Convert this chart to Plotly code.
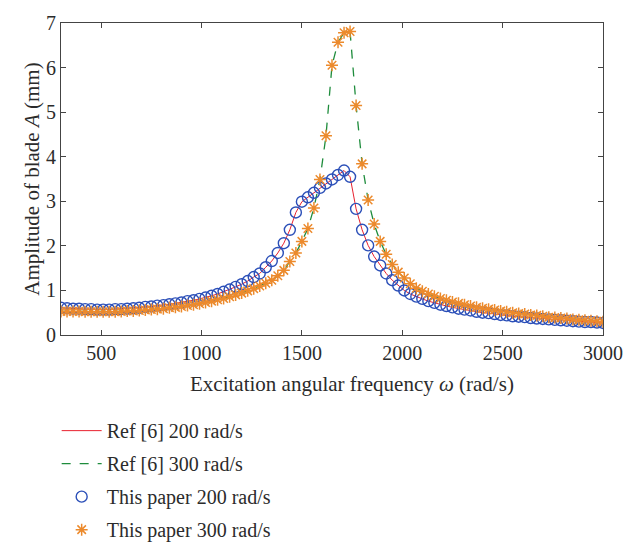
import plotly.graph_objects as go

# Excitation angular frequency (rad/s)
omega = [300 + 30 * k for k in range(91)]

# This paper / Ref [6], 200 rad/s  (amplitude, mm)
amp_200 = [0.61, 0.60, 0.59, 0.59, 0.58, 0.58, 0.57, 0.57, 0.57, 0.58,
           0.58, 0.59, 0.60, 0.61, 0.63, 0.64, 0.66, 0.67, 0.69, 0.71,
           0.73, 0.76, 0.78, 0.81, 0.84, 0.88, 0.92, 0.97, 1.02, 1.08,
           1.14, 1.21, 1.30, 1.38, 1.52, 1.66, 1.84, 2.06, 2.36, 2.75,
           2.99, 3.09, 3.19, 3.30, 3.40, 3.49, 3.59, 3.69, 3.55, 2.83,
           2.36, 2.01, 1.76, 1.56, 1.38, 1.23, 1.11, 1.00, 0.92, 0.86,
           0.81, 0.76, 0.72, 0.68, 0.65, 0.62, 0.59, 0.57, 0.55, 0.52,
           0.50, 0.49, 0.47, 0.45, 0.44, 0.42, 0.41, 0.40, 0.38, 0.37,
           0.36, 0.35, 0.34, 0.33, 0.32, 0.31, 0.30, 0.29, 0.29, 0.28,
           0.27]

# This paper / Ref [6], 300 rad/s  (amplitude, mm)
amp_300 = [0.53, 0.53, 0.53, 0.53, 0.52, 0.52, 0.52, 0.52, 0.52, 0.52,
           0.53, 0.54, 0.54, 0.55, 0.56, 0.57, 0.58, 0.59, 0.61, 0.62,
           0.64, 0.66, 0.68, 0.70, 0.73, 0.76, 0.79, 0.82, 0.86, 0.90,
           0.94, 0.99, 1.04, 1.10, 1.16, 1.23, 1.33, 1.45, 1.65, 1.84,
           2.10, 2.39, 2.85, 3.49, 4.47, 6.05, 6.57, 6.78, 6.81, 5.15,
           3.84, 3.03, 2.49, 2.10, 1.81, 1.58, 1.41, 1.28, 1.15, 1.05,
           0.98, 0.92, 0.87, 0.82, 0.78, 0.74, 0.71, 0.68, 0.65, 0.62,
           0.60, 0.58, 0.56, 0.54, 0.52, 0.50, 0.48, 0.47, 0.45, 0.44,
           0.42, 0.40, 0.39, 0.38, 0.37, 0.35, 0.34, 0.33, 0.32, 0.31,
           0.30]

x_ticks = [500, 1000, 1500, 2000, 2500, 3000]
y_ticks = [0, 1, 2, 3, 4, 5, 6, 7]

FONT = "Liberation Serif"
TXT = "#2b2b2b"
FS = 20

fig = go.Figure()
fig.add_trace(go.Scatter(x=omega, y=amp_200, mode="lines", name="Ref [6] 200 rad/s",
                         line=dict(color="#e8202e", width=1), legendgroup="a"))
fig.add_trace(go.Scatter(x=omega, y=amp_300, mode="lines", name="Ref [6] 300 rad/s",
                         line=dict(color="#1e8c3c", width=1.3, dash="dash"), legendgroup="b"))
fig.add_trace(go.Scatter(x=omega, y=amp_200, mode="markers", name="This paper 200 rad/s",
                         marker=dict(symbol="circle-open", size=11, color="#2b4fb8",
                                     line=dict(color="#2b4fb8", width=1.4)),
                         legendgroup="c"))
fig.add_trace(go.Scatter(x=omega, y=amp_300, mode="markers", name="This paper 300 rad/s",
                         marker=dict(symbol="asterisk-open", size=10, color="#ec8a2c",
                                     line=dict(color="#ec8a2c", width=1.5)),
                         legendgroup="d"))

axis_common = dict(showline=True, linecolor="#444", linewidth=1.2, mirror="ticks",
                   ticks="inside", ticklen=5, tickcolor="#444", showgrid=False,
                   zeroline=False, tickfont=dict(family=FONT, size=FS, color=TXT))

fig.update_xaxes(range=[300, 3000], tickvals=x_ticks, **axis_common)
fig.update_yaxes(range=[0, 7], tickvals=y_ticks,
                 title=dict(text="Amplitude of blade <i>A</i> (mm)",
                            font=dict(family=FONT, size=FS + 1, color=TXT), standoff=0),
                 **axis_common)

fig.add_annotation(text="Excitation angular frequency <i>ω</i> (rad/s)",
                   xref="paper", yref="paper", x=0.537, y=-0.156,
                   xanchor="center", yanchor="middle", showarrow=False,
                   font=dict(family=FONT, size=FS + 1, color=TXT))

fig.update_layout(
    width=635, height=546,
    margin=dict(l=61, r=22, t=21, b=211),
    paper_bgcolor="white", plot_bgcolor="white",
    showlegend=True,
    legend=dict(x=-0.008, y=0.247, xref="paper", yref="container",
                xanchor="left", yanchor="top", itemwidth=40,
                font=dict(family=FONT, size=FS, color=TXT),
                tracegroupgap=4, bgcolor="rgba(0,0,0,0)"),
)

fig.write_html("out.html")
